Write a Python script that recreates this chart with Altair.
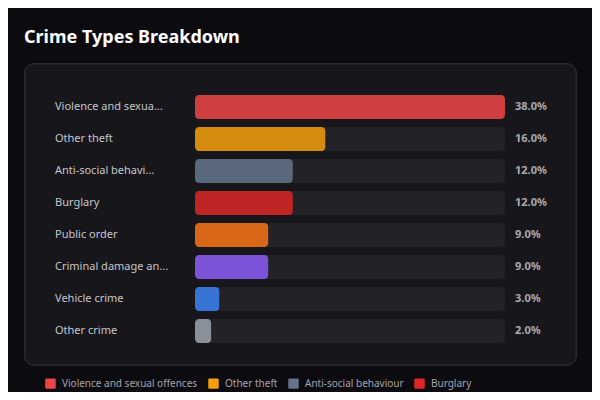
import altair as alt
import pandas as pd

categories = ["Violence and sexual offences", "Other theft", "Anti-social behaviour",
              "Burglary", "Public order", "Criminal damage and arson",
              "Vehicle crime", "Other crime"]
values = [38.0, 16.0, 12.0, 12.0, 9.0, 9.0, 3.0, 2.0]
colors = ["#ef4444", "#f59e0b", "#64748b", "#dc2626", "#f97316", "#8b5cf6",
          "#3b82f6", "#9ca3af"]
legend_shown = categories[:4]  # only the first legend row is visible in the picture

def short(s, n=18):
    return s if len(s) <= n else s[:n] + "..."

vmax = max(values)
df = pd.DataFrame({
    "category": categories,
    "label": [short(c) for c in categories],
    "value": values,
    "full": [vmax] * len(values),
    "pct": [f"{v:.1f}%" for v in values],
})

FONT = "Noto Sans"
BG = "#0c0c10"

y_enc = alt.Y("category:N", sort=None, axis=None,
              scale=alt.Scale(paddingInner=0.25, paddingOuter=0.125))
x_scale = alt.Scale(domain=[0, vmax], nice=False, zero=True)

panel = alt.Chart(df).mark_rect(
    fill="#17171b", stroke="#2a2a30", strokeWidth=1, cornerRadius=9
).encode(
    x=alt.value(-170), x2=alt.value(381), y=alt.value(-27), y2=alt.value(274)
)

track = alt.Chart(df).mark_bar(color="#222227", cornerRadius=4).encode(
    y=y_enc,
    x=alt.X("full:Q", scale=x_scale, axis=None),
)

bars = alt.Chart(df).mark_bar(cornerRadius=4, opacity=0.85).encode(
    y=y_enc,
    x=alt.X("value:Q", scale=x_scale, axis=None),
    color=alt.Color(
        "category:N",
        scale=alt.Scale(domain=categories, range=colors),
        legend=alt.Legend(
            title=None, orient="none", legendX=-150, legendY=287,
            direction="horizontal", values=legend_shown, columnPadding=10,
            symbolType="M -0.75 -1 H 0.75 Q 1 -1 1 -0.75 V 0.75 Q 1 1 0.75 1 H -0.75 Q -1 1 -1 0.75 V -0.75 Q -1 -1 -0.75 -1 Z",
            symbolSize=110, symbolStrokeWidth=0, symbolOpacity=1,
            labelColor="#a3a3ab", labelFont=FONT, labelFontSize=10,
            labelOffset=6, labelLimit=300,
        ),
    ),
)

names = alt.Chart(df).mark_text(
    align="left", baseline="middle", font=FONT, fontSize=11, color="#c4c4cc"
).encode(y=y_enc, x=alt.value(-140), text="label:N")

pcts = alt.Chart(df).mark_text(
    align="left", baseline="middle", font=FONT, fontSize=11, fontWeight="bold",
    color="#a9a9b3", dx=10
).encode(y=y_enc, x=alt.X("full:Q", scale=x_scale, axis=None), text="pct:N")

chart = alt.layer(panel, track, bars, names, pcts).properties(
    width=310, height=256,
    background=BG,
    padding={"left": 187, "top": 83, "right": 87, "bottom": 45},
    autosize=alt.AutoSizeParams(type="none"),
    title=alt.Title(
        "Crime Types Breakdown", anchor="start", frame="group",
        font=FONT, fontSize=18, fontWeight="bold", color="#ffffff",
        dx=-171, dy=-13,
    ),
).configure_view(stroke=None)

chart.save("out.html", embed_options={"renderer": "svg", "actions": False})
